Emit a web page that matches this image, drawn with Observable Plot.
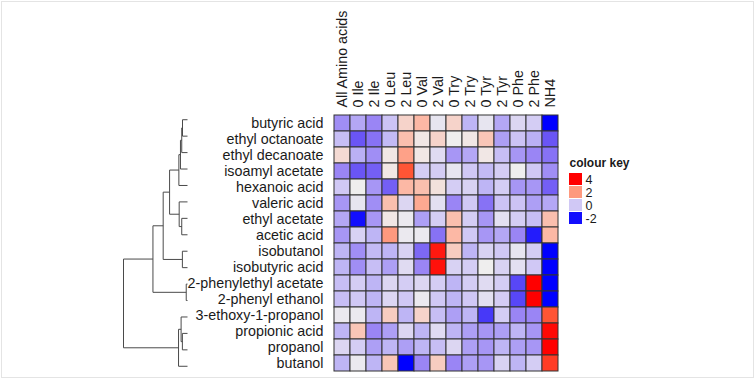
<!DOCTYPE html>
<html><head><meta charset="utf-8">
<script src="https://cdn.jsdelivr.net/npm/d3@7"></script>
<script src="https://cdn.jsdelivr.net/npm/@observablehq/plot@0.6"></script>
<style>
html,body{margin:0;padding:0;background:#fff;}
#wrap{position:relative;width:755px;height:379px;overflow:hidden;background:#fff;}
#wrap svg{position:absolute;left:0;top:0;}
#frame{position:absolute;left:1px;top:1px;width:751px;height:375px;border:1px solid #e4e4e4;}
</style></head><body><div id="wrap"><div id="frame"></div></div>
<script>
const columns = ["All Amino acids","0 Ile","2 Ile","0 Leu","2 Leu","0 Val","2 Val","0 Try","2 Try","0 Tyr","2 Tyr","0 Phe","2 Phe","NH4"];
const rows = ["butyric acid","ethyl octanoate","ethyl decanoate","isoamyl acetate","hexanoic acid","valeric acid","ethyl acetate","acetic acid","isobutanol","isobutyric acid","2-phenylethyl acetate","2-phenyl ethanol","3-ethoxy-1-propanol","propionic acid","propanol","butanol"];
const values = [
  [-0.9,-0.6,-1.0,-0.1, 1.2, 1.6, 0.6, 1.2,-0.4, 0.6,-0.6, 0.3, 0.1,-2.1],
  [-0.2,-1.5,-1.2,-0.3, 1.5, 0.9, 1.2, 0.8, 0.9, 1.4,-0.7,-0.1,-0.5,-1.5],
  [ 1.1,-0.5,-0.9, 0.9, 1.9, 0.9, 0.4,-0.8,-0.6, 0.9,-0.2,-0.8,-1.0,-1.2],
  [-1.0,-1.5,-1.4, 0.9, 3.0, 0.1, 0.1, 0.6, 0.0,-0.3, 0.1, 0.8, 0.0,-0.9],
  [ 0.0, 0.8,-0.8,-1.4, 1.6, 1.5, 1.0, 0.1, 0.2,-0.4, 0.1,-0.8,-0.8,-1.4],
  [-0.8, 0.6,-0.9, 1.5, 0.3, 1.8, 0.5,-1.0, 0.0,-1.2,-0.1,-0.1,-0.7,-0.6],
  [-0.6,-2.0,-0.8, 0.9, 0.7,-0.7, 0.1, 1.5, 0.1,-0.8, 0.5, 0.1,-0.2, 1.5],
  [-0.8, 0.2,-0.4, 2.0, 0.7, 0.7,-1.2, 1.6, 0.0,-0.8,-0.6,-1.0,-1.9, 1.6],
  [-0.4,-0.9,-0.3,-0.4, 0.2,-1.3, 3.7, 1.3,-0.4, 0.2, 0.0, 0.6, 0.1,-2.4],
  [-0.4,-0.9,-0.2,-0.7, 0.4,-1.0, 3.8, 0.2, 0.1, 0.8, 0.2, 0.5, 0.0,-2.5],
  [-0.2, 0.1,-0.4, 0.3, 0.1, 0.3, 0.1,-0.4, 0.1, 0.4, 0.1,-1.6, 4.0,-2.4],
  [-0.2, 0.0,-0.4, 0.3, 0.0, 0.7, 0.0,-0.4, 0.0, 0.5, 0.1,-1.6, 4.2,-2.5],
  [ 0.7, 0.7,-0.4, 1.3,-0.4, 1.2,-0.2,-0.7,-0.4,-1.7, 0.1,-1.0,-1.0, 3.0],
  [-0.4, 1.4,-1.0,-0.7, 0.3,-0.4, 0.4,-0.4,-0.7,-0.8,-0.7,-0.4,-0.8, 3.9],
  [ 0.3, 0.1,-0.7,-0.4,-0.7,-0.4,-0.2, 0.3,-0.7,-0.8,-0.4,-0.7,-0.8, 4.1],
  [-0.4, 0.7,-0.4, 1.4,-2.2,-1.0, 1.3,-1.0,-0.7,-0.8, 0.2,-0.4, 0.1, 3.3]
];
// dendrogram merges (children: row names or earlier merge ids), with merge heights
const mergeIds    = ["m1","m2","m3","m4","m5","m6","m7","m8","m9","m10","m11","m12","m13","m14","m15"];
const mergeLeft   = ["butyric acid","m1","m2","m3","ethyl acetate","valeric acid","m4","isobutanol","m7","2-phenylethyl acetate","m9","propionic acid","3-ethoxy-1-propanol","m13","m11"];
const mergeRight  = ["ethyl octanoate","ethyl decanoate","isoamyl acetate","hexanoic acid","acetic acid","m5","m6","isobutyric acid","m8","2-phenyl ethanol","m10","propanol","m12","butanol","m14"];
const mergeHeight = [0.78,0.9,1.1,1.35,0.9,1.3,2.8,0.8,3.8,0.2,5.4,0.8,1.0,1.4,10];
const keyLabels = ["4","2","0","-2"];

const colorOpts = {
  type: "linear",
  domain: [-2.1,-1.5,-1.0,-0.5,0,0.8,1.6,2.2,3,4],
  range: ["#0000ff","#6a55f5","#9a85f5","#bab0f5","#d0c8f5","#efeeee","#fcb8a5","#ff8a6a","#ff5535","#ff0000"],
  clamp: true,
  interpolate: "rgb"
};

const table = [];
rows.forEach((r, i) => columns.forEach((c, j) => table.push({row: r, col: c, value: values[i][j]})));

const font = {fontFamily: "'Liberation Sans', Arial, sans-serif", fontSize: "14.3px", color: "#1a1a1a", background: "transparent", overflow: "visible"};

const heat = Plot.plot({
  width: 755, height: 379,
  marginLeft: 329, marginRight: 192, marginTop: 111, marginBottom: 5,
  x: {domain: columns, padding: 0},
  y: {domain: rows, padding: 0},
  color: colorOpts,
  style: font,
  marks: [
    Plot.cell(table, {x: "col", y: "row", fill: "value", stroke: "#333", strokeWidth: 1, inset: 0}),
    Plot.axisX({anchor: "top", tickRotate: -90, tickSize: 0, tickPadding: 4, fontSize: 14.3, label: null}),
    Plot.axisY({anchor: "left", tickSize: 0, tickPadding: 6, fontSize: 14.3, label: null})
  ]
});

// dendrogram geometry
const pos = {};
rows.forEach((r, i) => pos[r] = {x: 0, y: i});
const segs = [];
mergeIds.forEach((id, k) => {
  const a = pos[mergeLeft[k]], b = pos[mergeRight[k]], h = mergeHeight[k];
  segs.push({x1: a.x, y1: a.y, x2: h, y2: a.y});
  segs.push({x1: b.x, y1: b.y, x2: h, y2: b.y});
  segs.push({x1: h, y1: a.y, x2: h, y2: b.y});
  pos[id] = {x: h, y: (a.y + b.y) / 2};
});

const dendro = Plot.plot({
  width: 755, height: 379,
  marginLeft: 123, marginRight: 568, marginTop: 111, marginBottom: 5,
  x: {domain: [10, 0], axis: null},
  y: {domain: [15.5, -0.5], axis: null},
  style: font,
  marks: [
    Plot.link(segs, {x1: "x1", y1: "y1", x2: "x2", y2: "y2", stroke: "#4a4a4a", strokeWidth: 1})
  ]
});

const legend = Plot.plot({
  width: 755, height: 379,
  marginLeft: 569, marginRight: 173, marginTop: 171, marginBottom: 154,
  x: {axis: null},
  y: {domain: keyLabels, padding: 0.1, axis: null},
  color: colorOpts,
  style: font,
  marks: [
    Plot.cell(keyLabels, {y: d => d, fill: d => +d, inset: 0}),
    Plot.text(keyLabels, {y: d => d, frameAnchor: "left", dx: 16, text: d => d, textAnchor: "start", fontSize: 12.5, fill: "#1a1a1a"}),
    Plot.text(["colour key"], {frameAnchor: "top-left", lineAnchor: "bottom", dy: -5, text: d => d, textAnchor: "start", fontSize: 12, fontWeight: "bold", fill: "#1a1a1a"})
  ]
});

const wrap = document.getElementById("wrap");
wrap.appendChild(dendro);
wrap.appendChild(heat);
wrap.appendChild(legend);
</script>
</body></html>
